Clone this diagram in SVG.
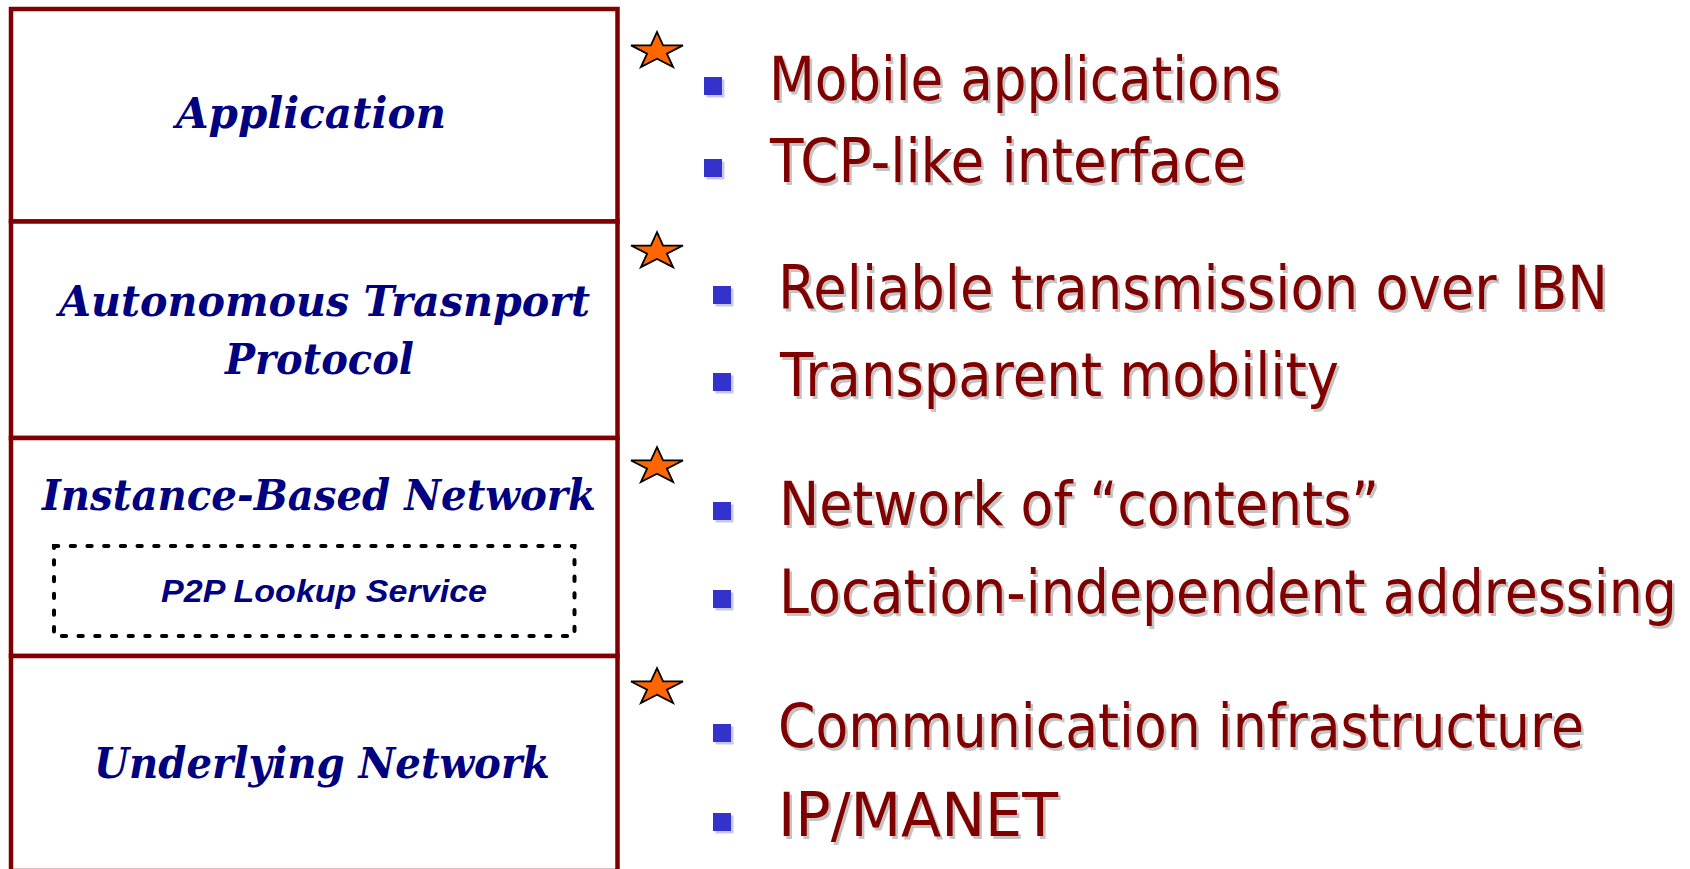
<svg xmlns="http://www.w3.org/2000/svg" xmlns:xlink="http://www.w3.org/1999/xlink" width="1690" height="869" viewBox="0 0 1690 869">
<style>
.layer{fill:#ffffff;stroke:#800000;stroke-width:4.5}
.lbl{font-family:"DejaVu Serif","Liberation Serif",serif;font-weight:bold;font-style:italic;font-size:42px;fill:#000080}
.p2p{font-family:"Liberation Sans",Arial,sans-serif;font-weight:bold;font-style:italic;font-size:31px;fill:#000080}
.dash{fill:none;stroke:#000000;stroke-width:4;stroke-dasharray:4.3 12.4;stroke-linecap:round}
.bt{font-family:"DejaVu Sans","Verdana",sans-serif;font-size:54.5px;fill:#800000}
.sh{font-family:"DejaVu Sans","Verdana",sans-serif;font-size:54.5px;fill:#c4c4c4}
.bul{fill:#3333cc}
.bsh{fill:#c8c8dc}
.star{fill:#ff6600;stroke:#000000;stroke-width:1.8;stroke-linejoin:miter}
</style>
<defs>
<polygon id="starShape" class="star" points="0,-19.35 6.1,-5.95 26,-5.95 9.9,2.28 16.1,15.65 0,7.39 -16.1,15.65 -9.9,2.28 -26,-5.95 -6.1,-5.95"/>
</defs>
<rect width="1690" height="869" fill="#ffffff"/>
<g id="layers">
<g id="application"><rect class="layer" x="11" y="9" width="606.5" height="212.5"/><text class="lbl" x="176" y="128" textLength="270" lengthAdjust="spacingAndGlyphs">Application</text></g>
<g id="transport"><rect class="layer" x="11" y="221.5" width="606.5" height="216.5"/><text class="lbl" x="59" y="316" textLength="531" lengthAdjust="spacingAndGlyphs">Autonomous Trasnport</text><text class="lbl" x="225" y="374" textLength="189" lengthAdjust="spacingAndGlyphs">Protocol</text></g>
<g id="ibn"><rect class="layer" x="11" y="438" width="606.5" height="218"/><text class="lbl" x="42" y="510" textLength="554" lengthAdjust="spacingAndGlyphs">Instance-Based Network</text></g>
<g id="p2p"><rect class="dash" x="54" y="546" width="520.5" height="90"/><text class="p2p" x="161" y="602" textLength="326" lengthAdjust="spacingAndGlyphs">P2P Lookup Service</text></g>
<g id="underlying"><rect class="layer" x="11" y="656" width="606.5" height="215"/><text class="lbl" x="94" y="778" textLength="456" lengthAdjust="spacingAndGlyphs">Underlying Network</text></g>
</g>
<g id="stars">
<use xlink:href="#starShape" href="#starShape" transform="translate(657,51.35)"/>
<use xlink:href="#starShape" href="#starShape" transform="translate(657,251.5)"/>
<use xlink:href="#starShape" href="#starShape" transform="translate(657,466.4)"/>
<use xlink:href="#starShape" href="#starShape" transform="translate(657,687.4)"/>
</g>
<g id="bullets">
<g id="b1"><rect class="bsh" x="706.5" y="79.5" width="18" height="18"/><rect class="bul" x="704" y="77" width="18" height="18"/><g transform="translate(769,100) scale(1,1.1)"><text class="sh" x="2.5" y="2.3" textLength="512" lengthAdjust="spacingAndGlyphs">Mobile applications</text><text class="bt" x="0" y="0" textLength="512" lengthAdjust="spacingAndGlyphs">Mobile applications</text></g></g>
<g id="b2"><rect class="bsh" x="706.5" y="161.5" width="18" height="18"/><rect class="bul" x="704" y="159" width="18" height="18"/><g transform="translate(770,182) scale(1,1.1)"><text class="sh" x="2.5" y="2.3" textLength="476" lengthAdjust="spacingAndGlyphs">TCP-like interface</text><text class="bt" x="0" y="0" textLength="476" lengthAdjust="spacingAndGlyphs">TCP-like interface</text></g></g>
<g id="b3"><rect class="bsh" x="715.5" y="288.5" width="18" height="18"/><rect class="bul" x="713" y="286" width="18" height="18"/><g transform="translate(778,309) scale(1,1.1)"><text class="sh" x="2.5" y="2.3" textLength="830" lengthAdjust="spacingAndGlyphs">Reliable transmission over IBN</text><text class="bt" x="0" y="0" textLength="830" lengthAdjust="spacingAndGlyphs">Reliable transmission over IBN</text></g></g>
<g id="b4"><rect class="bsh" x="715.5" y="375.5" width="18" height="18"/><rect class="bul" x="713" y="373" width="18" height="18"/><g transform="translate(780,396) scale(1,1.1)"><text class="sh" x="2.5" y="2.3" textLength="559" lengthAdjust="spacingAndGlyphs">Transparent mobility</text><text class="bt" x="0" y="0" textLength="559" lengthAdjust="spacingAndGlyphs">Transparent mobility</text></g></g>
<g id="b5"><rect class="bsh" x="715.5" y="504.5" width="18" height="18"/><rect class="bul" x="713" y="502" width="18" height="18"/><g transform="translate(779,525) scale(1,1.1)"><text class="sh" x="2.5" y="2.3" textLength="600" lengthAdjust="spacingAndGlyphs">Network of “contents”</text><text class="bt" x="0" y="0" textLength="600" lengthAdjust="spacingAndGlyphs">Network of “contents”</text></g></g>
<g id="b6"><rect class="bsh" x="715.5" y="592.5" width="18" height="18"/><rect class="bul" x="713" y="590" width="18" height="18"/><g transform="translate(779,613) scale(1,1.1)"><text class="sh" x="2.5" y="2.3" textLength="898" lengthAdjust="spacingAndGlyphs">Location-independent addressing</text><text class="bt" x="0" y="0" textLength="898" lengthAdjust="spacingAndGlyphs">Location-independent addressing</text></g></g>
<g id="b7"><rect class="bsh" x="715.5" y="726.5" width="18" height="18"/><rect class="bul" x="713" y="724" width="18" height="18"/><g transform="translate(778,747) scale(1,1.1)"><text class="sh" x="2.5" y="2.3" textLength="806" lengthAdjust="spacingAndGlyphs">Communication infrastructure</text><text class="bt" x="0" y="0" textLength="806" lengthAdjust="spacingAndGlyphs">Communication infrastructure</text></g></g>
<g id="b8"><rect class="bsh" x="715.5" y="815.5" width="18" height="18"/><rect class="bul" x="713" y="813" width="18" height="18"/><g transform="translate(778,836) scale(1,1.1)"><text class="sh" x="2.5" y="2.3" textLength="280" lengthAdjust="spacingAndGlyphs">IP/MANET</text><text class="bt" x="0" y="0" textLength="280" lengthAdjust="spacingAndGlyphs">IP/MANET</text></g></g>
</g>
<g id="connectors"></g>
</svg>
